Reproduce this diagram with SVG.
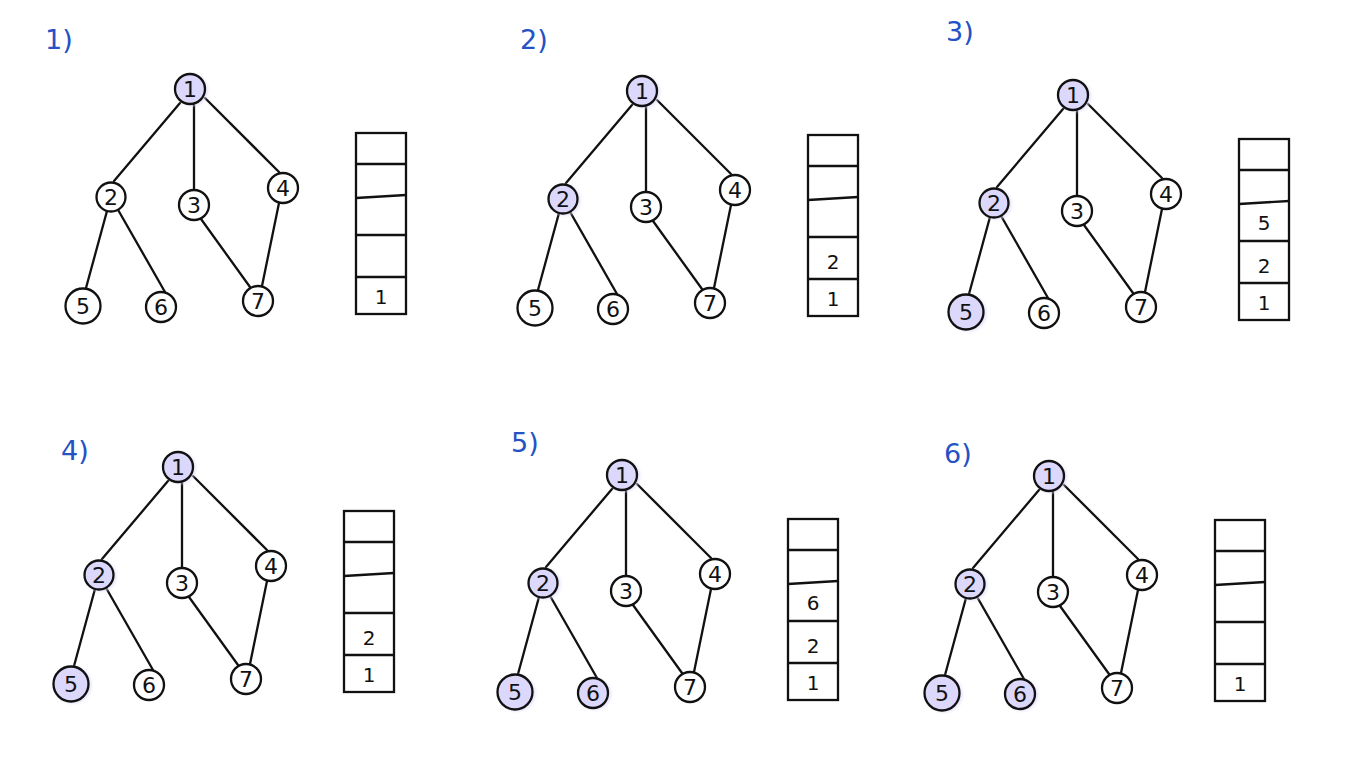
<svg xmlns="http://www.w3.org/2000/svg" width="1353" height="759" viewBox="0 0 1353 759">
<style>
.bg{fill:#ffffff}
.edge{stroke:#111;stroke-width:2.3;stroke-linecap:round;fill:none}
.node{fill:#ffffff;stroke:#111;stroke-width:2.3}
.vis{fill:#dcd8fb;stroke:#111;stroke-width:2.3}
.halo{fill:#dcd8fb;opacity:0.7}
.nt{font-family:"DejaVu Sans","Liberation Sans",sans-serif;font-size:22px;fill:#111;text-anchor:middle}
.st{font-family:"DejaVu Sans","Liberation Sans",sans-serif;font-size:20px;fill:#111;text-anchor:middle}
.box{fill:none;stroke:#111;stroke-width:2.3}
.lbl{font-family:"DejaVu Sans","Liberation Sans",sans-serif;font-size:27px;fill:#2452c4}
</style>
<defs>
<filter id="soft" x="-50%" y="-50%" width="200%" height="200%"><feGaussianBlur stdDeviation="1.5"/></filter>
</defs>
<rect class="bg" x="0" y="0" width="1353" height="759"/>
<g id="labels">
<text class="lbl" x="45" y="49">1)</text>
<text class="lbl" x="520" y="49">2)</text>
<text class="lbl" x="946" y="41">3)</text>
<text class="lbl" x="61" y="460">4)</text>
<text class="lbl" x="511" y="452">5)</text>
<text class="lbl" x="944" y="463">6)</text>
</g>

<!-- Panel 1 -->
<g id="panel1" transform="translate(0,0)">
<g id="p1-connectors">
<line class="edge" x1="180" y1="103" x2="114" y2="181"/>
<line class="edge" x1="194" y1="104" x2="194" y2="190"/>
<line class="edge" x1="205" y1="98" x2="279" y2="172"/>
<line class="edge" x1="107" y1="211" x2="86" y2="288"/>
<line class="edge" x1="117" y1="208" x2="165" y2="292"/>
<line class="edge" x1="201" y1="219" x2="250" y2="287"/>
<line class="edge" x1="279" y1="203" x2="262" y2="286"/>
</g>
<g id="p1-n1"><circle class="halo" cx="192" cy="90" r="16" filter="url(#soft)"/><circle class="vis" cx="190" cy="89" r="15"/><text class="nt" x="190" y="97">1</text></g>
<g id="p1-n2"><circle class="node" cx="111" cy="197" r="14.5"/><text class="nt" x="111" y="205">2</text></g>
<g id="p1-n3"><circle class="node" cx="194" cy="205" r="15"/><text class="nt" x="194" y="213">3</text></g>
<g id="p1-n4"><circle class="node" cx="283" cy="188" r="15"/><text class="nt" x="283" y="196">4</text></g>
<g id="p1-n5"><circle class="node" cx="83" cy="306" r="17.5"/><text class="nt" x="83" y="314">5</text></g>
<g id="p1-n6"><circle class="node" cx="161" cy="307" r="15"/><text class="nt" x="161" y="315">6</text></g>
<g id="p1-n7"><circle class="node" cx="258" cy="301" r="15"/><text class="nt" x="258" y="309">7</text></g>
<g id="p1-stack">
<rect class="box" x="356" y="133" width="50" height="181"/>
<line class="box" x1="356" y1="164" x2="406" y2="164"/>
<line class="box" x1="356" y1="198" x2="406" y2="195"/>
<line class="box" x1="356" y1="235" x2="406" y2="235"/>
<line class="box" x1="356" y1="277" x2="406" y2="277"/>
<text class="st" x="381" y="304">1</text>
</g>
</g>

<!-- Panel 2 -->
<g id="panel2" transform="translate(452,2)">
<g id="p2-connectors">
<line class="edge" x1="180" y1="103" x2="114" y2="181"/>
<line class="edge" x1="194" y1="104" x2="194" y2="190"/>
<line class="edge" x1="205" y1="98" x2="279" y2="172"/>
<line class="edge" x1="107" y1="211" x2="86" y2="288"/>
<line class="edge" x1="117" y1="208" x2="165" y2="292"/>
<line class="edge" x1="201" y1="219" x2="250" y2="287"/>
<line class="edge" x1="279" y1="203" x2="262" y2="286"/>
</g>
<g id="p2-n1"><circle class="halo" cx="192" cy="90" r="16" filter="url(#soft)"/><circle class="vis" cx="190" cy="89" r="15"/><text class="nt" x="190" y="97">1</text></g>
<g id="p2-n2"><circle class="halo" cx="113" cy="198" r="15.5" filter="url(#soft)"/><circle class="vis" cx="111" cy="197" r="14.5"/><text class="nt" x="111" y="205">2</text></g>
<g id="p2-n3"><circle class="node" cx="194" cy="205" r="15"/><text class="nt" x="194" y="213">3</text></g>
<g id="p2-n4"><circle class="node" cx="283" cy="188" r="15"/><text class="nt" x="283" y="196">4</text></g>
<g id="p2-n5"><circle class="node" cx="83" cy="306" r="17.5"/><text class="nt" x="83" y="314">5</text></g>
<g id="p2-n6"><circle class="node" cx="161" cy="307" r="15"/><text class="nt" x="161" y="315">6</text></g>
<g id="p2-n7"><circle class="node" cx="258" cy="301" r="15"/><text class="nt" x="258" y="309">7</text></g>
<g id="p2-stack">
<rect class="box" x="356" y="133" width="50" height="181"/>
<line class="box" x1="356" y1="164" x2="406" y2="164"/>
<line class="box" x1="356" y1="198" x2="406" y2="195"/>
<line class="box" x1="356" y1="235" x2="406" y2="235"/>
<line class="box" x1="356" y1="277" x2="406" y2="277"/>
<text class="st" x="381" y="267">2</text>
<text class="st" x="381" y="304">1</text>
</g>
</g>

<!-- Panel 3 -->
<g id="panel3" transform="translate(883,6)">
<g id="p3-connectors">
<line class="edge" x1="180" y1="103" x2="114" y2="181"/>
<line class="edge" x1="194" y1="104" x2="194" y2="190"/>
<line class="edge" x1="205" y1="98" x2="279" y2="172"/>
<line class="edge" x1="107" y1="211" x2="86" y2="288"/>
<line class="edge" x1="117" y1="208" x2="165" y2="292"/>
<line class="edge" x1="201" y1="219" x2="250" y2="287"/>
<line class="edge" x1="279" y1="203" x2="262" y2="286"/>
</g>
<g id="p3-n1"><circle class="halo" cx="192" cy="90" r="16" filter="url(#soft)"/><circle class="vis" cx="190" cy="89" r="15"/><text class="nt" x="190" y="97">1</text></g>
<g id="p3-n2"><circle class="halo" cx="113" cy="198" r="15.5" filter="url(#soft)"/><circle class="vis" cx="111" cy="197" r="14.5"/><text class="nt" x="111" y="205">2</text></g>
<g id="p3-n3"><circle class="node" cx="194" cy="205" r="15"/><text class="nt" x="194" y="213">3</text></g>
<g id="p3-n4"><circle class="node" cx="283" cy="188" r="15"/><text class="nt" x="283" y="196">4</text></g>
<g id="p3-n5"><circle class="halo" cx="85" cy="307" r="18.5" filter="url(#soft)"/><circle class="vis" cx="83" cy="306" r="17.5"/><text class="nt" x="83" y="314">5</text></g>
<g id="p3-n6"><circle class="node" cx="161" cy="307" r="15"/><text class="nt" x="161" y="315">6</text></g>
<g id="p3-n7"><circle class="node" cx="258" cy="301" r="15"/><text class="nt" x="258" y="309">7</text></g>
<g id="p3-stack">
<rect class="box" x="356" y="133" width="50" height="181"/>
<line class="box" x1="356" y1="164" x2="406" y2="164"/>
<line class="box" x1="356" y1="198" x2="406" y2="195"/>
<line class="box" x1="356" y1="235" x2="406" y2="235"/>
<line class="box" x1="356" y1="277" x2="406" y2="277"/>
<text class="st" x="381" y="224">5</text>
<text class="st" x="381" y="267">2</text>
<text class="st" x="381" y="304">1</text>
</g>
</g>

<!-- Panel 4 -->
<g id="panel4" transform="translate(-12,378)">
<g id="p4-connectors">
<line class="edge" x1="180" y1="103" x2="114" y2="181"/>
<line class="edge" x1="194" y1="104" x2="194" y2="190"/>
<line class="edge" x1="205" y1="98" x2="279" y2="172"/>
<line class="edge" x1="107" y1="211" x2="86" y2="288"/>
<line class="edge" x1="117" y1="208" x2="165" y2="292"/>
<line class="edge" x1="201" y1="219" x2="250" y2="287"/>
<line class="edge" x1="279" y1="203" x2="262" y2="286"/>
</g>
<g id="p4-n1"><circle class="halo" cx="192" cy="90" r="16" filter="url(#soft)"/><circle class="vis" cx="190" cy="89" r="15"/><text class="nt" x="190" y="97">1</text></g>
<g id="p4-n2"><circle class="halo" cx="113" cy="198" r="15.5" filter="url(#soft)"/><circle class="vis" cx="111" cy="197" r="14.5"/><text class="nt" x="111" y="205">2</text></g>
<g id="p4-n3"><circle class="node" cx="194" cy="205" r="15"/><text class="nt" x="194" y="213">3</text></g>
<g id="p4-n4"><circle class="node" cx="283" cy="188" r="15"/><text class="nt" x="283" y="196">4</text></g>
<g id="p4-n5"><circle class="halo" cx="85" cy="307" r="18.5" filter="url(#soft)"/><circle class="vis" cx="83" cy="306" r="17.5"/><text class="nt" x="83" y="314">5</text></g>
<g id="p4-n6"><circle class="node" cx="161" cy="307" r="15"/><text class="nt" x="161" y="315">6</text></g>
<g id="p4-n7"><circle class="node" cx="258" cy="301" r="15"/><text class="nt" x="258" y="309">7</text></g>
<g id="p4-stack">
<rect class="box" x="356" y="133" width="50" height="181"/>
<line class="box" x1="356" y1="164" x2="406" y2="164"/>
<line class="box" x1="356" y1="198" x2="406" y2="195"/>
<line class="box" x1="356" y1="235" x2="406" y2="235"/>
<line class="box" x1="356" y1="277" x2="406" y2="277"/>
<text class="st" x="381" y="267">2</text>
<text class="st" x="381" y="304">1</text>
</g>
</g>

<!-- Panel 5 -->
<g id="panel5" transform="translate(432,386)">
<g id="p5-connectors">
<line class="edge" x1="180" y1="103" x2="114" y2="181"/>
<line class="edge" x1="194" y1="104" x2="194" y2="190"/>
<line class="edge" x1="205" y1="98" x2="279" y2="172"/>
<line class="edge" x1="107" y1="211" x2="86" y2="288"/>
<line class="edge" x1="117" y1="208" x2="165" y2="292"/>
<line class="edge" x1="201" y1="219" x2="250" y2="287"/>
<line class="edge" x1="279" y1="203" x2="262" y2="286"/>
</g>
<g id="p5-n1"><circle class="halo" cx="192" cy="90" r="16" filter="url(#soft)"/><circle class="vis" cx="190" cy="89" r="15"/><text class="nt" x="190" y="97">1</text></g>
<g id="p5-n2"><circle class="halo" cx="113" cy="198" r="15.5" filter="url(#soft)"/><circle class="vis" cx="111" cy="197" r="14.5"/><text class="nt" x="111" y="205">2</text></g>
<g id="p5-n3"><circle class="node" cx="194" cy="205" r="15"/><text class="nt" x="194" y="213">3</text></g>
<g id="p5-n4"><circle class="node" cx="283" cy="188" r="15"/><text class="nt" x="283" y="196">4</text></g>
<g id="p5-n5"><circle class="halo" cx="85" cy="307" r="18.5" filter="url(#soft)"/><circle class="vis" cx="83" cy="306" r="17.5"/><text class="nt" x="83" y="314">5</text></g>
<g id="p5-n6"><circle class="halo" cx="163" cy="308" r="16" filter="url(#soft)"/><circle class="vis" cx="161" cy="307" r="15"/><text class="nt" x="161" y="315">6</text></g>
<g id="p5-n7"><circle class="node" cx="258" cy="301" r="15"/><text class="nt" x="258" y="309">7</text></g>
<g id="p5-stack">
<rect class="box" x="356" y="133" width="50" height="181"/>
<line class="box" x1="356" y1="164" x2="406" y2="164"/>
<line class="box" x1="356" y1="198" x2="406" y2="195"/>
<line class="box" x1="356" y1="235" x2="406" y2="235"/>
<line class="box" x1="356" y1="277" x2="406" y2="277"/>
<text class="st" x="381" y="224">6</text>
<text class="st" x="381" y="267">2</text>
<text class="st" x="381" y="304">1</text>
</g>
</g>

<!-- Panel 6 -->
<g id="panel6" transform="translate(859,387)">
<g id="p6-connectors">
<line class="edge" x1="180" y1="103" x2="114" y2="181"/>
<line class="edge" x1="194" y1="104" x2="194" y2="190"/>
<line class="edge" x1="205" y1="98" x2="279" y2="172"/>
<line class="edge" x1="107" y1="211" x2="86" y2="288"/>
<line class="edge" x1="117" y1="208" x2="165" y2="292"/>
<line class="edge" x1="201" y1="219" x2="250" y2="287"/>
<line class="edge" x1="279" y1="203" x2="262" y2="286"/>
</g>
<g id="p6-n1"><circle class="halo" cx="192" cy="90" r="16" filter="url(#soft)"/><circle class="vis" cx="190" cy="89" r="15"/><text class="nt" x="190" y="97">1</text></g>
<g id="p6-n2"><circle class="halo" cx="113" cy="198" r="15.5" filter="url(#soft)"/><circle class="vis" cx="111" cy="197" r="14.5"/><text class="nt" x="111" y="205">2</text></g>
<g id="p6-n3"><circle class="node" cx="194" cy="205" r="15"/><text class="nt" x="194" y="213">3</text></g>
<g id="p6-n4"><circle class="node" cx="283" cy="188" r="15"/><text class="nt" x="283" y="196">4</text></g>
<g id="p6-n5"><circle class="halo" cx="85" cy="307" r="18.5" filter="url(#soft)"/><circle class="vis" cx="83" cy="306" r="17.5"/><text class="nt" x="83" y="314">5</text></g>
<g id="p6-n6"><circle class="halo" cx="163" cy="308" r="16" filter="url(#soft)"/><circle class="vis" cx="161" cy="307" r="15"/><text class="nt" x="161" y="315">6</text></g>
<g id="p6-n7"><circle class="node" cx="258" cy="301" r="15"/><text class="nt" x="258" y="309">7</text></g>
<g id="p6-stack">
<rect class="box" x="356" y="133" width="50" height="181"/>
<line class="box" x1="356" y1="164" x2="406" y2="164"/>
<line class="box" x1="356" y1="198" x2="406" y2="195"/>
<line class="box" x1="356" y1="235" x2="406" y2="235"/>
<line class="box" x1="356" y1="277" x2="406" y2="277"/>
<text class="st" x="381" y="304">1</text>
</g>
</g>
</svg>
